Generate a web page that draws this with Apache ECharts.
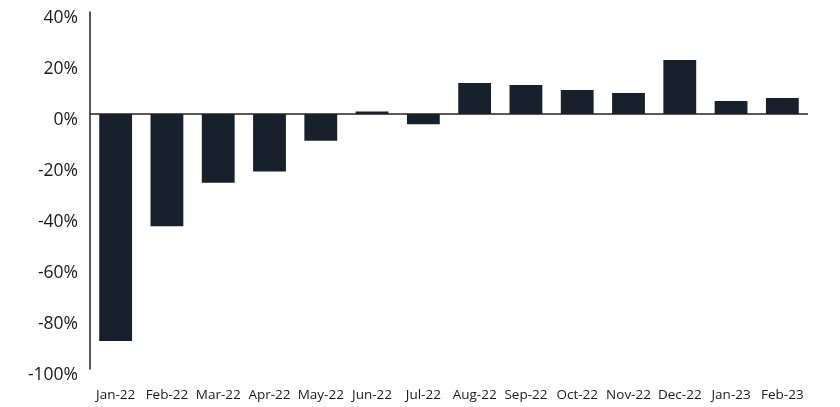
<!DOCTYPE html>
<html>
<head>
<meta charset="utf-8">
<script src="https://cdn.jsdelivr.net/npm/echarts@6/dist/echarts.min.js"></script>
<style>
  html, body { margin: 0; padding: 0; background: #fff; }
  #chart { width: 840px; height: 407px; }
</style>
</head>
<body>
<div id="chart"></div>
<script>
// monthly change, %
const months = ['Jan-22','Feb-22','Mar-22','Apr-22','May-22','Jun-22','Jul-22',
                'Aug-22','Sep-22','Oct-22','Nov-22','Dec-22','Jan-23','Feb-23'];
const changes = [-89, -44, -27, -22.5, -10.5, 1, -4, 12.2, 11.4, 9.4, 8.2, 21.2, 5.1, 6.3];
const yTicks = [-100, -80, -60, -40, -20, 0, 20, 40];

const chart = echarts.init(document.getElementById('chart'));
const font = '"Open Sans", Lato, sans-serif';

chart.setOption({
  animation: false,
  textStyle: { fontFamily: font },
  grid: { left: 90, right: 32, top: 12, bottom: 38 },
  xAxis: {
    type: 'category',
    data: months,
    axisLine: { show: false },
    axisTick: { show: false },
    axisLabel: { interval: 0, color: '#1a1a1a', fontSize: 13.5, margin: 19, fontFamily: font }
  },
  yAxis: {
    type: 'value',
    min: yTicks[0],
    max: yTicks[yTicks.length - 1],
    interval: 20,
    axisLine: { show: true, lineStyle: { color: '#222', width: 1.5 } },
    axisTick: { show: false },
    splitLine: { show: false },
    axisLabel: {
      color: '#1a1a1a', fontSize: 17.5, margin: 12, fontFamily: font,
      verticalAlign: 'top', lineHeight: 12,
      formatter: v => v + '%'
    }
  },
  series: [{
    type: 'bar',
    data: changes,
    barWidth: '64%',
    itemStyle: { color: '#18202b' },
    markLine: {
      silent: true,
      symbol: 'none',
      label: { show: false },
      lineStyle: { color: '#222', width: 1.5, type: 'solid' },
      data: [{ yAxis: 0 }]
    }
  }]
});
</script>
</body>
</html>
